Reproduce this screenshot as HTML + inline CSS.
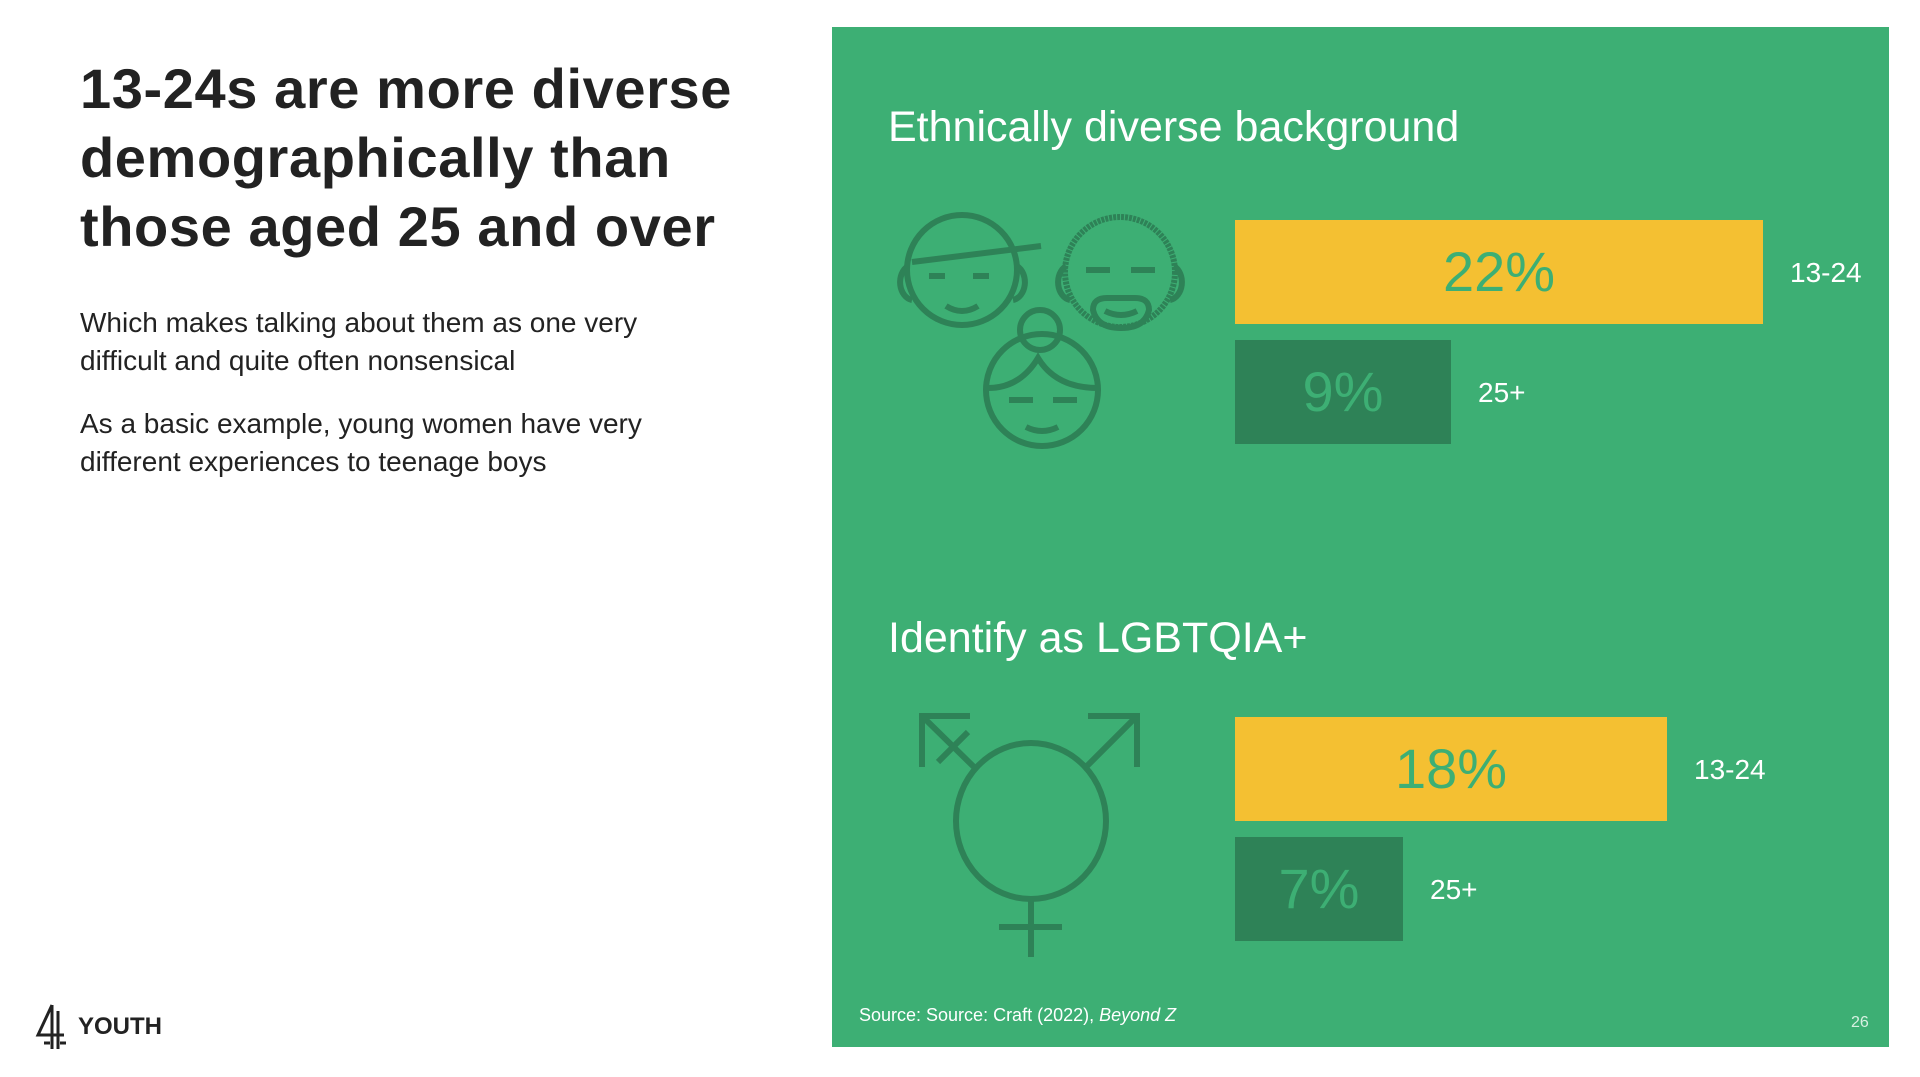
<!DOCTYPE html>
<html><head><meta charset="utf-8"><style>
body{margin:0;width:1920px;height:1077px;background:#fff;position:relative;overflow:hidden;font-family:"Liberation Sans",sans-serif}
.a{position:absolute;white-space:nowrap}
</style></head><body>
<div class="a" style="left:80px;top:54px;font-size:56px;font-weight:bold;color:#222;line-height:69px;letter-spacing:0.6px">13-24s are more diverse<br>demographically than<br>those aged 25 and over</div>
<div class="a" style="left:80px;top:304px;font-size:28px;color:#222;line-height:38px">Which makes talking about them as one very<br>difficult and quite often nonsensical</div>
<div class="a" style="left:80px;top:405px;font-size:28px;color:#222;line-height:38px">As a basic example, young women have very<br>different experiences to teenage boys</div>
<div class="a" style="left:34px;top:1003px;width:130px;height:48px">
<svg width="40" height="48"><g stroke="#222" stroke-width="3" fill="none"><path d="M18 2 L4 32 L30 32"/><path d="M18 2 V46"/><path d="M24 8 V46"/><path d="M10 40 H16 M26 40 H32"/></g></svg>
<span class="a" style="left:44px;top:10px;font-size:24px;font-weight:bold;color:#222">YOUTH</span></div>

<div class="a" style="left:832px;top:27px;width:1057px;height:1020px;background:#3daf74"></div>
<svg class="a" style="left:0;top:0" width="1920" height="1077">
<g id="icons" fill="none" stroke="#2e8257" stroke-width="6" stroke-linecap="butt">
<circle cx="962" cy="270" r="55"/><path d="M912 262 L1041 246"/><path d="M908 266 a14 18 0 0 0 4 34"/><path d="M1017 266 a14 18 0 0 1 -4 34"/>
<path d="M929 276 H945 M973 276 H989"/><path d="M946 306 q16 10 32 0"/>
<circle cx="1120" cy="272" r="55" stroke-dasharray="3 1"/><path d="M1066 266 a14 18 0 0 0 4 34"/><path d="M1174 266 a14 18 0 0 1 -4 34"/>
<path d="M1086 270 H1110 M1131 270 H1155"/><path d="M1093 310 q0-12 14-12 h28 q14 0 14 12 q-4 18 -28 18 q-24 0 -28 -18z"/><path d="M1105 311 q16 8 32 0"/>
<circle cx="1042" cy="390" r="56"/><circle cx="1040" cy="330" r="20"/><path d="M988 388 q32 0 50 -30 q18 30 60 30"/>
<path d="M1009 400 H1033 M1053 400 H1077"/><path d="M1026 427 q16 8 32 0"/>
<ellipse cx="1031" cy="821" rx="75" ry="78"/>
<path d="M922 767 V716 H970"/><path d="M922 716 L975 768"/><path d="M938 762 L968 732"/>
<path d="M1137 767 V716 H1088"/><path d="M1137 716 L1085 768"/>
<path d="M1031 899 V957"/><path d="M999 927 H1062"/>
</g>
<g id="bars"></g>
</svg>
<div class="a" style="left:888px;top:103px;font-size:43px;color:#fff">Ethnically diverse background</div>
<div class="a" style="left:888px;top:614px;font-size:43px;color:#fff">Identify as LGBTQIA+</div>
<div class="a" style="left:859px;top:1005px;font-size:18px;color:#fff">Source: Source: Craft (2022), <i>Beyond Z</i></div>
<div class="a" style="left:1851px;top:1014px;font-size:16px;color:#d8f0e2">26</div>
<script>
const groups=["ethnic","lgbtqia"];
const ages=["13-24","25+"];
const ethnicValues=[22,9];
const lgbtValues=[18,7];
const series=[ethnicValues,lgbtValues];
const x0=1235,pxPer=24.0;
const x=v=>x0+v*pxPer;
const barTops=[[220,340],[717,837]];
const g=document.getElementById('bars');
const NS='http://www.w3.org/2000/svg';
series.forEach((vals,gi)=>{vals.forEach((v,ai)=>{
 const y=barTops[gi][ai],h=104;
 const r=document.createElementNS(NS,'rect');
 
 
 r.setAttribute('x',x0);r.setAttribute('y',y);r.setAttribute('width',x(v)-x0);r.setAttribute('height',h);
 r.setAttribute('fill',ai==0?'#f4c032':'#2e8257');g.appendChild(r);
 const t=document.createElementNS(NS,'text');
 
 
 t.setAttribute('x',(x0+x(v))/2);t.setAttribute('y',y+h/2+19);t.setAttribute('text-anchor','middle');
 t.setAttribute('font-size','56');t.setAttribute('fill','#3daf74');t.setAttribute('font-family','Liberation Sans, sans-serif');
 t.textContent=v+'%';g.appendChild(t);
 const l=document.createElementNS(NS,'text');
 
 
 l.setAttribute('x',x(v)+27);l.setAttribute('y',y+h/2+10);
 l.setAttribute('font-size','28');l.setAttribute('fill','#fff');l.setAttribute('font-family','Liberation Sans, sans-serif');
 l.textContent=ages[ai];g.appendChild(l);
});});
</script>
</body></html>
